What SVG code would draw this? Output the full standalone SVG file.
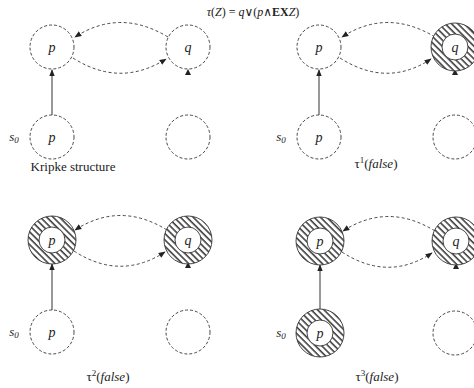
<svg xmlns="http://www.w3.org/2000/svg" width="474" height="388" viewBox="0 0 474 388">
<style>
.n{fill:none;stroke:#333;stroke-width:0.9;stroke-dasharray:3,2}
.h{fill:url(#hatch);stroke:none}
.hs{fill:none;stroke:#333;stroke-width:0.9}
.lbl{font-family:"Liberation Serif","DejaVu Serif",serif;font-style:italic;font-size:14px;fill:#222;text-anchor:middle}
.cap{font-family:"Liberation Serif","DejaVu Serif",serif;font-size:13px;fill:#222;text-anchor:middle}
.sub{font-family:"Liberation Serif","DejaVu Serif",serif;font-style:italic;font-size:13px;fill:#222;text-anchor:middle}
.ttl{font-family:"Liberation Serif","DejaVu Serif",serif;font-size:12px;fill:#222;text-anchor:middle}
.e{fill:none;stroke:#333;stroke-width:0.9;stroke-dasharray:3,2.5}
.s{fill:none;stroke:#333;stroke-width:1}
.ah{fill:#222}
</style>
<defs>
<pattern id="hatch" width="4.5" height="4.5" patternUnits="userSpaceOnUse" patternTransform="rotate(-45)">
<rect width="4.5" height="4.5" fill="#fff"/>
<line x1="1" y1="0" x2="1" y2="4.5" stroke="#333" stroke-width="1.5"/>
</pattern>
<marker id="arr" viewBox="0 0 10 10" refX="9" refY="5" markerWidth="7" markerHeight="7" orient="auto" markerUnits="userSpaceOnUse">
<path d="M0,1 L10,5 L0,9 z" fill="#222"/>
</marker>
</defs>

<text class="ttl" x="253" y="16"><tspan font-style="italic">τ</tspan>(<tspan font-style="italic">Z</tspan>) = <tspan font-style="italic">q</tspan>∨(<tspan font-style="italic">p</tspan>∧<tspan font-weight="bold">EX</tspan><tspan font-style="italic">Z</tspan>)</text>

<!-- connectors -->
<g id="connectors">
<g id="c-tl">
<path class="e" d="M168,37 Q120,8 75,37" marker-end="url(#arr)"/>
<path class="e" d="M73,58 Q120,88 166,59" marker-end="url(#arr)"/>
<line class="s" x1="52" y1="115" x2="52" y2="70" marker-end="url(#arr)"/>
<path class="ah" d="M185,75 L191,75 L188,69 z"/>
</g>
<g id="c-tr">
<path class="e" d="M435,37 Q387,8 342,37" marker-end="url(#arr)"/>
<path class="e" d="M340,58 Q387,88 431,59" marker-end="url(#arr)"/>
<line class="s" x1="319" y1="115" x2="319" y2="70" stroke-width="1.4" marker-end="url(#arr)"/>
<path class="ah" d="M452,75 L458,75 L455,69 z"/>
</g>
<g id="c-bl">
<path class="e" d="M167,230 Q120,201 75,230" marker-end="url(#arr)"/>
<path class="e" d="M74,251 Q120,281 165,252" marker-end="url(#arr)"/>
<line class="s" x1="52" y1="310" x2="52" y2="264" marker-end="url(#arr)"/>
<path class="ah" d="M185,268 L191,268 L188,262 z"/>
</g>
<g id="c-br">
<path class="e" d="M435,231 Q388,202 343,231" marker-end="url(#arr)"/>
<path class="e" d="M342,252 Q388,282 432,253" marker-end="url(#arr)"/>
<line class="s" x1="320" y1="309" x2="320" y2="265" stroke-width="1.4" marker-end="url(#arr)"/>
<path class="ah" d="M453,269 L459,269 L456,263 z"/>
</g>
</g>

<!-- top-left panel -->
<g id="tl-p"><circle class="n" cx="52" cy="47" r="22"/><text class="lbl" x="52" y="52">p</text></g>
<g id="tl-q"><circle class="n" cx="188" cy="47" r="22"/><text class="lbl" x="188" y="52">q</text></g>
<g id="tl-s0"><circle class="n" cx="52" cy="137" r="22"/><text class="lbl" x="52" y="142">p</text>
<text class="sub" x="14" y="141">s<tspan font-size="9" dy="2">0</tspan></text></g>
<g id="tl-e"><circle class="n" cx="188" cy="137" r="22"/></g>
<text class="cap" x="73" y="171">Kripke structure</text>

<!-- top-right panel -->
<g id="tr-p"><circle class="n" cx="319" cy="47" r="22"/><text class="lbl" x="319" y="52">p</text></g>
<g id="tr-q"><path class="h" fill-rule="evenodd" d="M431,47 a24,24 0 1,0 48,0 a24,24 0 1,0 -48,0 z M442,47 a13,13 0 1,0 26,0 a13,13 0 1,0 -26,0 z"/><circle class="hs" cx="455" cy="47" r="24"/><circle class="hs" cx="455" cy="47" r="13"/><text class="lbl" x="455" y="52">q</text></g>
<g id="tr-s0"><circle class="n" cx="319" cy="137" r="22"/><text class="lbl" x="319" y="142">p</text>
<text class="sub" x="281" y="141">s<tspan font-size="9" dy="2">0</tspan></text></g>
<g id="tr-e"><circle class="n" cx="455" cy="137" r="22"/></g>
<text class="cap" x="376" y="168"><tspan>τ</tspan><tspan font-size="9" dy="-5">1</tspan><tspan dy="5">(</tspan><tspan font-style="italic">false</tspan>)</text>

<!-- bottom-left panel -->
<g id="bl-p"><path class="h" fill-rule="evenodd" d="M28,240 a24,24 0 1,0 48,0 a24,24 0 1,0 -48,0 z M39,240 a13,13 0 1,0 26,0 a13,13 0 1,0 -26,0 z"/><circle class="hs" cx="52" cy="240" r="24"/><circle class="hs" cx="52" cy="240" r="13"/><text class="lbl" x="52" y="245">p</text></g>
<g id="bl-q"><path class="h" fill-rule="evenodd" d="M164,240 a24,24 0 1,0 48,0 a24,24 0 1,0 -48,0 z M175,240 a13,13 0 1,0 26,0 a13,13 0 1,0 -26,0 z"/><circle class="hs" cx="188" cy="240" r="24"/><circle class="hs" cx="188" cy="240" r="13"/><text class="lbl" x="188" y="245">q</text></g>
<g id="bl-s0"><circle class="n" cx="52" cy="332" r="22"/><text class="lbl" x="52" y="337">p</text>
<text class="sub" x="14" y="336">s<tspan font-size="9" dy="2">0</tspan></text></g>
<g id="bl-e"><circle class="n" cx="188" cy="332" r="22"/></g>
<text class="cap" x="108" y="381"><tspan>τ</tspan><tspan font-size="9" dy="-5">2</tspan><tspan dy="5">(</tspan><tspan font-style="italic">false</tspan>)</text>

<!-- bottom-right panel -->
<g id="br-p"><path class="h" fill-rule="evenodd" d="M296,241 a24,24 0 1,0 48,0 a24,24 0 1,0 -48,0 z M307,241 a13,13 0 1,0 26,0 a13,13 0 1,0 -26,0 z"/><circle class="hs" cx="320" cy="241" r="24"/><circle class="hs" cx="320" cy="241" r="13"/><text class="lbl" x="320" y="246">p</text></g>
<g id="br-q"><path class="h" fill-rule="evenodd" d="M432,241 a24,24 0 1,0 48,0 a24,24 0 1,0 -48,0 z M443,241 a13,13 0 1,0 26,0 a13,13 0 1,0 -26,0 z"/><circle class="hs" cx="456" cy="241" r="24"/><circle class="hs" cx="456" cy="241" r="13"/><text class="lbl" x="456" y="246">q</text></g>
<g id="br-s0"><path class="h" fill-rule="evenodd" d="M296,333 a24,24 0 1,0 48,0 a24,24 0 1,0 -48,0 z M307,333 a13,13 0 1,0 26,0 a13,13 0 1,0 -26,0 z"/><circle class="hs" cx="320" cy="333" r="24"/><circle class="hs" cx="320" cy="333" r="13"/><text class="lbl" x="320" y="338">p</text>
<text class="sub" x="281" y="337">s<tspan font-size="9" dy="2">0</tspan></text></g>
<g id="br-e"><circle class="n" cx="455" cy="333" r="22"/></g>
<text class="cap" x="377" y="381"><tspan>τ</tspan><tspan font-size="9" dy="-5">3</tspan><tspan dy="5">(</tspan><tspan font-style="italic">false</tspan>)</text>
</svg>
